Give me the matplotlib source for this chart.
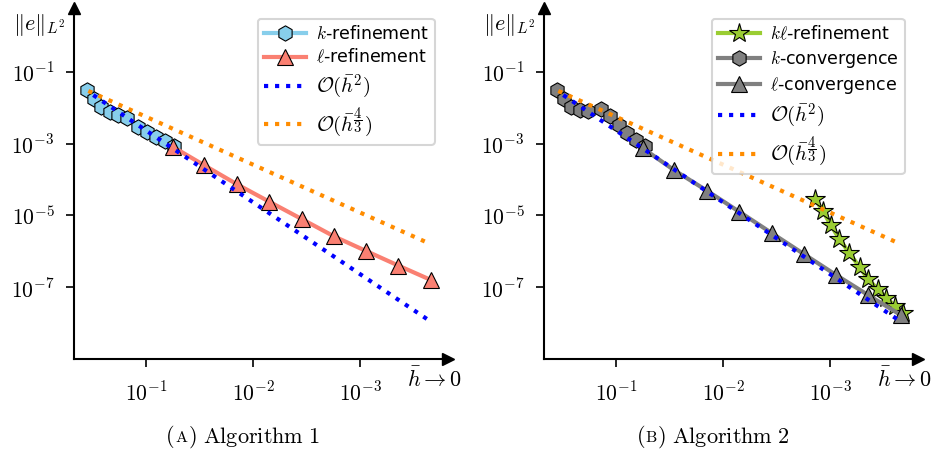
import numpy as np
import matplotlib
matplotlib.use('Agg')
import matplotlib.pyplot as plt
from matplotlib.offsetbox import TextArea, HPacker, AnnotationBbox

plt.rcParams['mathtext.fontset'] = 'cm'
plt.rcParams['font.family'] = ['DejaVu Sans']

# Algorithm 1
k_ref_h = [0.358, 0.306, 0.262, 0.218, 0.182, 0.150, 0.120, 0.0984, 0.0811, 0.0668, 0.0547]
k_ref_e = [3.09e-2, 1.74e-2, 1.07e-2, 7.41e-3, 6.17e-3, 5.25e-3, 2.95e-3, 2.14e-3, 1.55e-3, 1.17e-3, 8.7e-4]
l_ref_h = [0.0562, 0.0287, 0.0142, 7.05e-3, 3.48e-3, 1.75e-3, 8.79e-4, 4.39e-4, 2.17e-4]
l_ref_e = [8.1e-4, 2.5e-4, 7.4e-5, 2.4e-5, 7.8e-6, 2.6e-6, 1.02e-6, 4.0e-7, 1.58e-7]

# Algorithm 2
kl_ref_h = [1.38e-3, 1.17e-3, 9.9e-4, 8.2e-4, 6.64e-4, 5.30e-4, 4.39e-4, 3.60e-4, 2.97e-4, 2.47e-4, 2.08e-4]
kl_ref_e = [2.84e-5, 1.34e-5, 5.5e-6, 2.23e-6, 9.2e-7, 3.63e-7, 1.65e-7, 8.97e-8, 5.04e-8, 2.98e-8, 1.86e-8]
k_conv_h = [0.358, 0.306, 0.262, 0.217, 0.182, 0.138, 0.114, 0.0933, 0.0794, 0.0646, 0.0537]
k_conv_e = [3.09e-2, 1.74e-2, 1.02e-2, 8.5e-3, 7.8e-3, 8.9e-3, 5.9e-3, 3.3e-3, 1.95e-3, 1.26e-3, 8.5e-4]
l_conv_h = l_ref_h
l_conv_e = [7.4e-4, 1.82e-4, 4.9e-5, 1.26e-5, 3.16e-6, 8.3e-7, 2.19e-7, 6.0e-8, 1.66e-8]

# reference slopes (end points)
rate2_h = [0.311, 2.22e-4]
rate2_e = [2.24e-2, 1.14e-8]
rate43_h = [0.346, 2.38e-4]
rate43_e = [2.91e-2, 1.77e-6]

xticks = [1e-1, 1e-2, 1e-3]
xticklabels = [r'$10^{-1}$', r'$10^{-2}$', r'$10^{-3}$']
yticks = [1e-1, 1e-3, 1e-5, 1e-7]
yticklabels = [r'$10^{-1}$', r'$10^{-3}$', r'$10^{-5}$', r'$10^{-7}$']


def setupAxes(ax):
    ax.set_xscale('log')
    ax.set_yscale('log')
    ax.set_xlim(10**-0.327, 10**-3.822)
    ax.set_ylim(10**-9.0, 10**0.774)
    for s in ['top', 'right']:
        ax.spines[s].set_visible(False)
    for s in ['left', 'bottom']:
        ax.spines[s].set_linewidth(1.5)
    ax.minorticks_off()
    ax.set_xticks(xticks)
    ax.set_xticklabels(xticklabels, fontsize=15.5)
    ax.set_yticks(yticks)
    ax.set_yticklabels(yticklabels, fontsize=15.5)
    ax.tick_params(axis='x', length=6, width=1.2, pad=10)
    ax.tick_params(axis='y', length=6, width=1.2, pad=8)
    ax.plot(1, 0, '>k', markersize=8, transform=ax.transAxes, clip_on=False)
    ax.plot(0, 1, '^k', markersize=8, transform=ax.transAxes, clip_on=False)


fig = plt.figure(figsize=(9.37, 4.57), dpi=100)
ax1 = fig.add_axes([74/937, 98/457, 374/937, 351/457])
ax2 = fig.add_axes([544/937, 98/457, 374/937, 351/457])

rate43_label = r'$\mathcal{O}(\bar{h}^{\dfrac{4}{3}})$'

ax1.plot(k_ref_h, k_ref_e, '-h', color='skyblue', lw=3, markersize=11,
         markeredgecolor='black', markeredgewidth=0.8, label=r'$k$-refinement')
ax1.plot(l_ref_h, l_ref_e, '-^', color='salmon', lw=3, markersize=12,
         markeredgecolor='black', markeredgewidth=0.8, label=r'$\ell$-refinement')
ax1.plot(rate2_h, rate2_e, ':', color='blue', lw=3, label=r'$\mathcal{O}(\bar{h}^{2})$')
ax1.plot(rate43_h, rate43_e, ':', color='darkorange', lw=3, label=rate43_label)

ax2.plot(kl_ref_h, kl_ref_e, '-*', color='yellowgreen', lw=3, markersize=15,
         markeredgecolor='black', markeredgewidth=0.8, label=r'$k\ell$-refinement')
ax2.plot(k_conv_h, k_conv_e, '-h', color='gray', lw=3, markersize=11,
         markeredgecolor='black', markeredgewidth=0.8, label=r'$k$-convergence')
ax2.plot(l_conv_h, l_conv_e, '-^', color='gray', lw=3, markersize=12,
         markeredgecolor='black', markeredgewidth=0.8, label=r'$\ell$-convergence')
ax2.plot(rate2_h, rate2_e, ':', color='blue', lw=3, label=r'$\mathcal{O}(\bar{h}^{2})$')
ax2.plot(rate43_h, rate43_e, ':', color='darkorange', lw=3, label=rate43_label)

for ax in [ax1, ax2]:
    setupAxes(ax)
    leg = ax.legend(loc='upper right', bbox_to_anchor=(0.965, 0.969), fontsize=12.5,
                    handlelength=2.4, handletextpad=0.6, borderaxespad=0,
                    labelspacing=0.3, borderpad=0.35)
    leg.get_frame().set_linewidth(1.5)
    for t in leg.get_texts():
        if 'mathcal' in t.get_text():
            t.set_fontsize(15)

for x0, cap, num in [(0, 'A', '1'), (470, 'B', '2')]:
    fig.text((39 + x0)/937, 1 - 25/457, r'$\|e\|_{L^2}$', fontsize=16, ha='center', va='center')
    fig.text((435 + x0)/937, 1 - 379/457, r'$\bar{h} \to 0$', fontsize=16, ha='center', va='center')
    parts = [TextArea('$($', textprops=dict(fontsize=16)),
             TextArea(r'$\mathrm{%s}$' % cap, textprops=dict(fontsize=11.5)),
             TextArea(r'$)\ \mathrm{Algorithm\ %s}$' % num, textprops=dict(fontsize=16))]
    box = HPacker(children=parts, align='baseline', pad=0, sep=0)
    fig.add_artist(AnnotationBbox(box, ((243 + x0)/937, 1 - 437/457), xycoords='figure fraction',
                                  frameon=False, box_alignment=(0.5, 0.5)))

fig.savefig('out.png', dpi=100)
